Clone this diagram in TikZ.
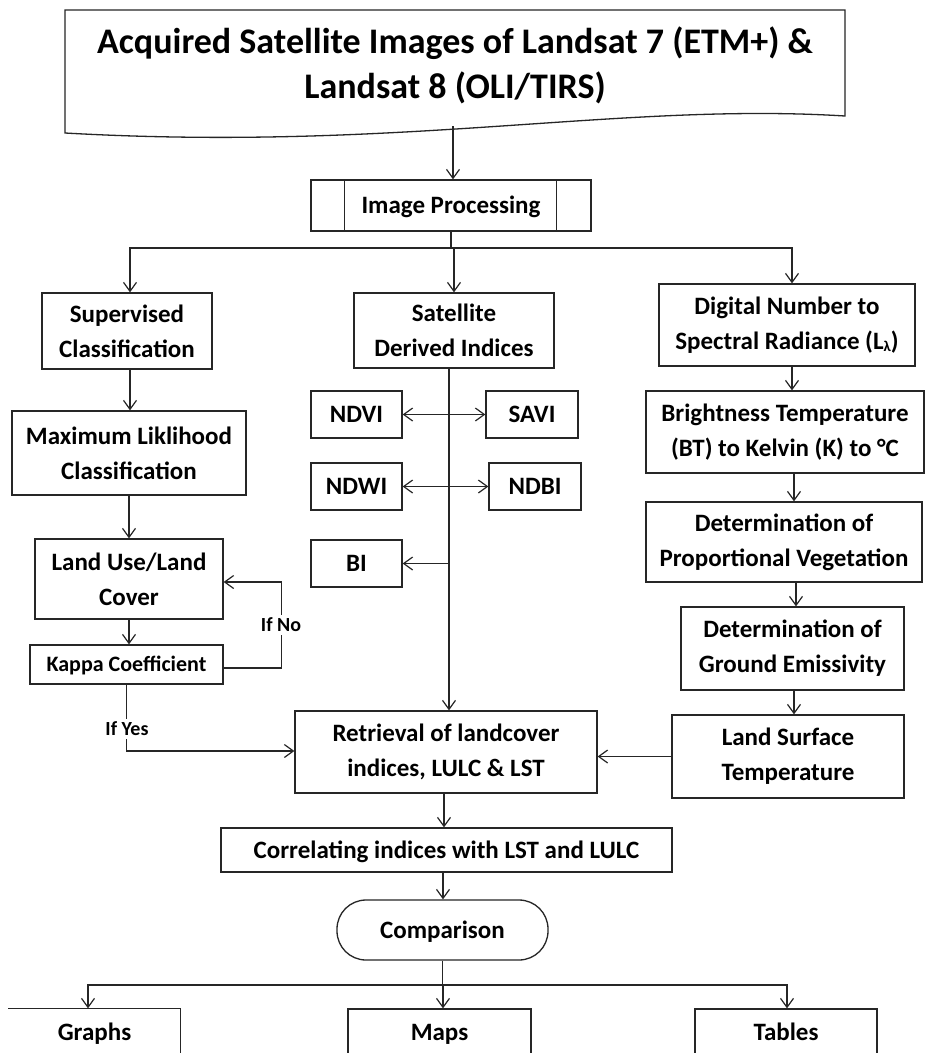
\documentclass[tikz,border=0pt]{standalone}
\usepackage{fontspec}
\setmainfont{Carlito}
\usetikzlibrary{arrows.meta}
\newcommand\boxfnt{\fontsize{25}{35}\selectfont\bfseries}
\newcommand\titlefnt{\fontsize{36}{45}\selectfont\bfseries}
\newcommand\kapfnt{\fontsize{22}{30}\selectfont\bfseries}
\newcommand\lblfnt{\fontsize{20}{24}\selectfont\bfseries}
\colorlet{linec}{black!85}
\begin{document}
\begin{tikzpicture}[x=1pt,y=-1pt,
  tip/.tip={Straight Barb[length=9pt,width=13pt,line width=1.2pt]},
  arr/.style={draw=linec, line width=1.2pt, -tip},
  darr/.style={draw=linec, line width=1.2pt, tip-tip},
  plain/.style={draw=linec, line width=1.2pt},
  box/.style={draw=linec, line width=1.3pt, align=center, inner sep=0pt, font=\boxfnt, text=black},
  one/.style={text height=19pt, text depth=3pt},
  lbl/.style={fill=white, inner sep=1.5pt, font=\lblfnt, text=black, text height=15pt, text depth=2pt}]
\useasboundingbox (0,0) rectangle (926,1053);
\clip (0,0) rectangle (926,1053);
\fill[white] (0,0) rectangle (926,1053);

% title document shape
\draw[draw=linec, line width=1.3pt] (65,10) -- (845,10) -- (845,116)
  .. controls (620,102) and (400,152) .. (65,133) -- cycle;
\node[font=\titlefnt, align=center, text=black, inner sep=0pt] (title) at (455,65)
  {Acquired Satellite Images of Landsat 7 (ETM+) \&\\Landsat 8 (OLI/TIRS)};
\coordinate (tb) at (453,126);

% nodes
\node[box, one, minimum width=280pt, minimum height=51pt] (imgproc) at (451,205.5) {Image Processing};
\node[box, minimum width=170pt, minimum height=76pt] (sup) at (127,331) {Supervised\\Classification};
\node[box, minimum width=200pt, minimum height=75pt] (sat) at (454,330.5) {Satellite\\Derived Indices};
\node[box, minimum width=256pt, minimum height=82pt] (dn) at (787,325) {Digital Number to\\Spectral Radiance (L\raisebox{-0.15ex}{\fontsize{15}{15}\selectfont λ})};
\node[box, minimum width=234pt, minimum height=84pt] (maxl) at (129,453) {Maximum Liklihood\\Classification};
\node[box, minimum width=278pt, minimum height=82pt] (bt) at (785,432) {Brightness Temperature\\(BT) to Kelvin (K) to °C};
\node[box, minimum width=276pt, minimum height=80pt] (pv) at (784,542) {Determination of\\Proportional Vegetation};
\node[box, minimum width=223pt, minimum height=83pt] (ge) at (792.5,648.5) {Determination of\\Ground Emissivity};
\node[box, minimum width=232pt, minimum height=83pt] (lst) at (788,756.5) {Land Surface\\Temperature};
\node[box, one, minimum width=91pt, minimum height=47pt] (ndvi) at (356.5,414.5) {NDVI};
\node[box, one, minimum width=92pt, minimum height=47pt] (savi) at (532,414.5) {SAVI};
\node[box, one, minimum width=91pt, minimum height=47pt] (ndwi) at (356.5,486.5) {NDWI};
\node[box, one, minimum width=92pt, minimum height=47pt] (ndbi) at (535,486.5) {NDBI};
\node[box, one, minimum width=91pt, minimum height=47pt] (bi) at (356.5,563.5) {BI};
\node[box, minimum width=188pt, minimum height=80pt] (lulc) at (129,579) {Land Use/Land\\Cover};
\node[box, font=\kapfnt, text height=17pt, text depth=3pt, minimum width=193pt, minimum height=39pt] (kappa) at (126.5,664.5) {Kappa Coefficient};
\node[box, minimum width=302pt, minimum height=82pt] (retr) at (446,752) {Retrieval of landcover\\indices, LULC \& LST};
\node[box, one, minimum width=451pt, minimum height=44pt] (corr) at (446.5,850) {Correlating indices with LST and LULC};
\node[box, one, rounded corners=29pt, minimum width=211pt, minimum height=60pt] (comp) at (442.5,930) {Comparison};
\node[box, one, draw=none, minimum width=171pt, minimum height=46pt] (graphs) at (94.5,1032) {Graphs};
\node[box, one, minimum width=183pt, minimum height=46pt] (maps) at (439.5,1032) {Maps};
\node[box, one, minimum width=182pt, minimum height=46pt] (tables) at (786,1032) {Tables};
\draw[draw=linec, line width=1.3pt] (graphs.north west) -- (graphs.north east) -- (graphs.south east);

% inner lines of predefined process
\draw[plain] ([xshift=34pt]imgproc.north west) -- ([xshift=34pt]imgproc.south west);
\draw[plain] ([xshift=-35pt]imgproc.north east) -- ([xshift=-35pt]imgproc.south east);

% connectors
\draw[arr] (tb) -- (tb |- imgproc.north);
\coordinate (bus) at (451,248);
\draw[plain] (imgproc.south) -- (bus);
\draw[arr] (bus) -| ([xshift=3pt]sup.north);
\draw[arr] (bus) -| (sat.north);
\draw[arr] (bus) -| ([xshift=5pt]dn.north);

\draw[arr] ([xshift=3pt]sup.south) -- ([xshift=3pt]sup.south |- maxl.north);
\draw[arr] (maxl.south) -- (maxl.south |- lulc.north);
\draw[arr] (lulc.south) -- (lulc.south |- kappa.north);
\draw[arr] ([yshift=-3.5pt]kappa.east) -- ++(58,0) |- ([yshift=-3pt]lulc.east);
\node[lbl] (ifno) at (281,625) {If No};
\draw[arr] (kappa.south) |- ([yshift=1pt]retr.west);
\node[lbl] (ifyes) at (127,729) {If Yes};

\coordinate (vline) at ([xshift=-5pt]sat.south);
\draw[arr] (vline) -- (vline |- retr.north);
\draw[darr] (ndvi.east) -- (savi.west);
\draw[darr] (ndwi.east) -- (ndbi.west);
\draw[arr] (vline |- bi.east) -- (bi.east);

\draw[arr] ([xshift=5pt]dn.south) -- ([xshift=5pt]dn.south |- bt.north);
\draw[arr] ([xshift=9pt]bt.south) -- ([xshift=9pt]bt.south |- pv.north);
\draw[arr] ([xshift=12pt]pv.south) -- ([xshift=12pt]pv.south |- ge.north);
\draw[arr] ([xshift=1.5pt]ge.south) -- ([xshift=1.5pt]ge.south |- lst.north);
\draw[arr] (lst.west) -- (lst.west -| retr.east);

\draw[arr] ([xshift=-2pt]retr.south) -- ([xshift=-2pt]retr.south |- corr.north);
\draw[arr] ([xshift=-3.5pt]corr.south) -- ([xshift=-3.5pt]corr.south |- comp.north);
\coordinate (bus2) at (442.5,985);
\draw[plain] (comp.south) -- (bus2);
\draw[arr] (bus2) -| ([xshift=-6.5pt]graphs.north);
\draw[arr] (bus2) -| ([xshift=3.5pt]maps.north);
\draw[arr] (bus2) -| ([xshift=1pt]tables.north);
\end{tikzpicture}
\end{document}
